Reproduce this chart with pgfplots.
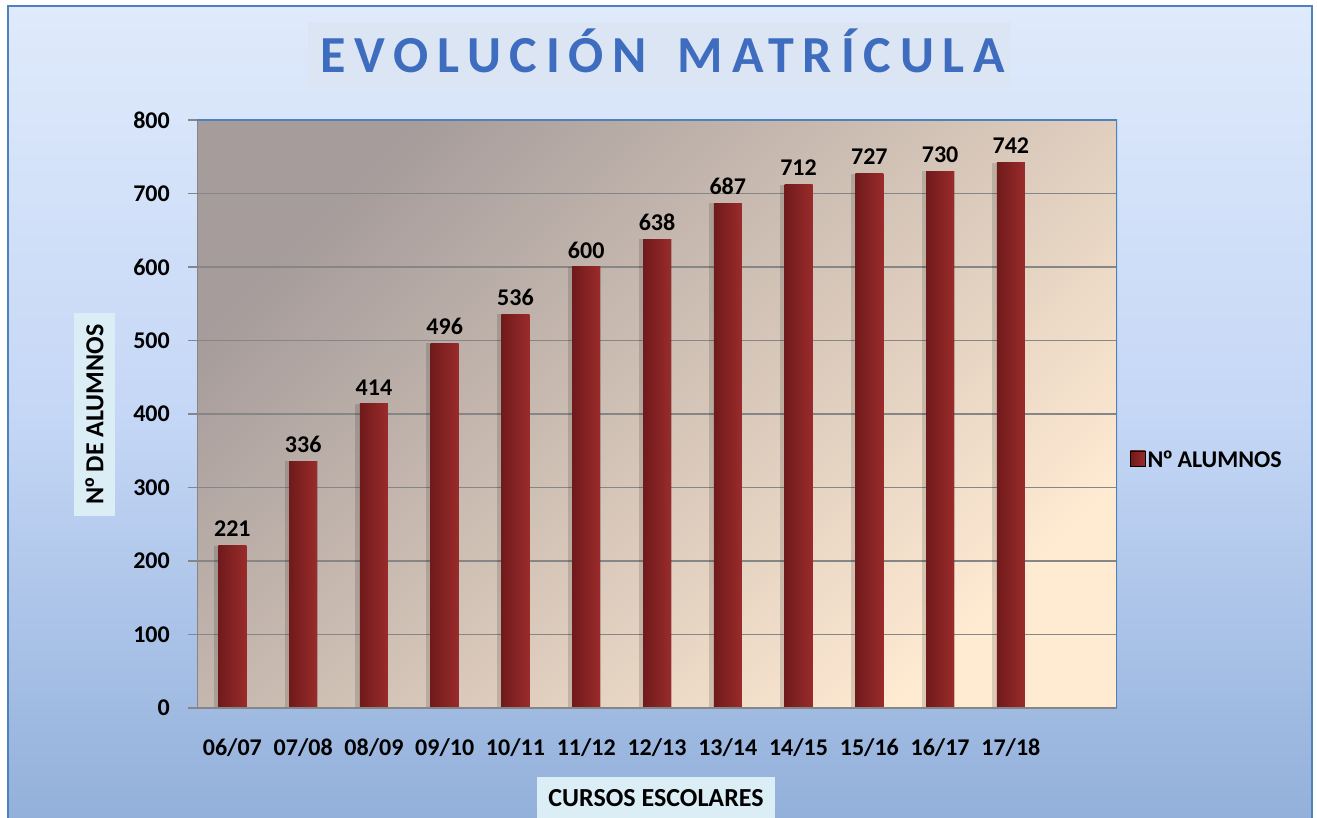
\documentclass[border=0pt]{standalone}
\usepackage{fontspec}
\setmainfont{Carlito}
\newfontfamily\ordfont{Liberation Sans}
\usepackage{pgfplots}
\usepackage{pgfplotstable}
\pgfplotsset{compat=1.18}
\definecolor{bgtop}{RGB}{223,234,251}
\definecolor{bgmid}{RGB}{197,215,246}
\definecolor{bgbot}{RGB}{146,176,218}
\definecolor{frameblue}{RGB}{79,129,189}
\definecolor{plottl}{RGB}{166,156,155}
\definecolor{plotbr}{RGB}{255,234,210}
\definecolor{barL}{RGB}{112,26,27}
\definecolor{barR}{RGB}{154,43,43}
\definecolor{gridgray}{RGB}{134,134,134}
\definecolor{labelbox}{RGB}{220,238,245}
\definecolor{titlebox}{RGB}{220,229,243}
\definecolor{titleblue}{RGB}{62,108,190}
\newcommand{\lab}{\bfseries\fontsize{24bp}{28bp}\selectfont}
\newcommand{\alab}{\bfseries\fontsize{26bp}{30bp}\selectfont}
\newcommand{\ord}{{\ordfont\bfseries º}}
\pgfplotstableread{
x y
0 221
1 336
2 414
3 496
4 536
5 600
6 638
7 687
8 712
9 727
10 730
11 742
}\datatable
\begin{document}
\begin{tikzpicture}[x=1bp,y=1bp]
\useasboundingbox (0,0) rectangle (1317,817);
\fill[white] (0,0) rectangle (1317,817);
\shade[top color=bgtop, bottom color=bgbot, middle color=bgmid] (8,-5) rectangle (1312,811);
\draw[frameblue, line width=2.5bp] (8,-5) rectangle (1312,811);
\fill[titlebox] (308,729) rectangle (1010,795);
\node[anchor=base, titleblue, inner sep=0pt] at (663,744)
  {\fontsize{52bp}{60bp}\selectfont\bfseries\addfontfeatures{LetterSpace=17}EVOLUCIÓN\hspace{10bp} MATRÍCULA};
\begin{axis}[
  at={(197bp,109bp)}, anchor=south west, scale only axis,
  width=920bp, height=588bp,
  xmin=-0.5, xmax=12.5, ymin=0, ymax=800,
  axis background/.style={shade, top color=plottl, bottom color=plotbr, shading angle=45},
  ytick={0,100,...,800}, ytick pos=left,
  ymajorgrids, grid style={gridgray, line width=1.5bp},
  xtick={0,...,11},
  xticklabels={06/07,07/08,08/09,09/10,10/11,11/12,12/13,13/14,14/15,15/16,16/17,17/18},
  tick label style={font=\lab, black},
  /pgf/number format/assume math mode=true,
  axis line style={draw=none},
  tick style={gridgray, line width=1.5bp},
  tick align=outside, major tick length=9bp,
  xtick style={draw=none},
  yticklabel style={anchor=east, inner sep=0pt, xshift=-18bp},
  xticklabel style={anchor=north, inner sep=0pt, yshift=-21bp},
  legend style={at={(1.0141,0.4218)}, anchor=west, draw=none, fill=none, inner sep=0pt,
    font=\bfseries\fontsize{24bp}{28bp}\selectfont, legend cell align=left,
    nodes={inner sep=2bp}},
  legend image code/.code={\fill[left color=barL, right color=barR] (0bp,-6bp) rectangle (15bp,9bp);},
  every node near coord/.append style={font=\lab, black, anchor=south, inner sep=0pt, yshift=8.5bp},
]
\pgfplotsinvokeforeach{0,...,11}{
  \addplot[ybar, bar width=33bp, bar shift=-2bp, draw=none, fill=black, opacity=0.14, forget plot,
    restrict x to domain=#1:#1] table[x=x,y=y] {\datatable};
  \addplot[ybar, bar width=28bp, draw=none, left color=barL, right color=barR, forget plot,
    nodes near coords, restrict x to domain=#1:#1] table[x=x,y=y] {\datatable};
}
\addlegendimage{}
\addlegendentry{N\ord{} ALUMNOS}
\draw[gridgray, line width=2bp] (rel axis cs:0,1) -- (rel axis cs:0,0) -- (rel axis cs:1,0);
\draw[frameblue, line width=1.5bp] (rel axis cs:0,1) -- (rel axis cs:1,1) -- (rel axis cs:1,0);
\draw[gridgray, line width=1.5bp] (axis cs:-0.5,0) -- ++(0,-8bp);
\draw[gridgray, line width=1.5bp] (axis cs:9.5,0) -- ++(0,-8bp);
\end{axis}
\node[fill=labelbox, rotate=90, minimum width=203bp, minimum height=41bp, inner sep=0pt, font=\alab] at (94.5,402.5) {N\ord{} DE ALUMNOS};
\node[fill=labelbox, minimum width=238bp, minimum height=42bp, inner sep=0pt, font=\alab] at (656,19) {CURSOS ESCOLARES};
\end{tikzpicture}
\end{document}
